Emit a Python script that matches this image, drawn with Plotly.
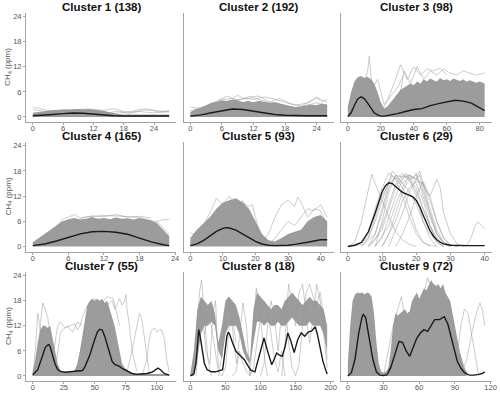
import plotly.graph_objects as go

# ---------------- data ----------------
titles = ["Cluster 1 (138)", "Cluster 2 (192)", "Cluster 3 (98)",
          "Cluster 4 (165)", "Cluster 5 (93)", "Cluster 6 (29)",
          "Cluster 7 (55)", "Cluster 8 (18)", "Cluster 9 (72)"]

x_ticks = [[0, 6, 12, 18, 24], [0, 6, 12, 18, 24], [0, 20, 40, 60, 80],
           [0, 6, 12, 18, 24], [0, 10, 20, 30, 40], [0, 10, 20, 30, 40],
           [0, 25, 50, 75, 100], [0, 50, 100, 150, 200], [0, 30, 60, 90, 120]]
y_ticks = [0, 6, 12, 18, 24]

# Cluster 1
c1_mean_x = [0, 2, 4, 6, 8, 10, 12, 14, 16, 18, 20, 22, 24, 27]
c1_mean_y = [0.3, 0.4, 0.6, 0.8, 0.95, 0.9, 0.7, 0.45, 0.3, 0.25, 0.25, 0.25, 0.25, 0.25]
c1_band_x = list(range(0, 28))
c1_band_hi = [1.0, 1.2, 1.3, 1.5, 1.6, 1.7, 1.8, 1.7, 1.8, 1.9, 1.8, 1.9, 1.8, 1.7, 1.5, 1.2,
              0.9, 0.7, 0.6, 0.6, 0.6, 0.6, 0.6, 0.6, 0.6, 0.6, 0.6, 0.6]
c1_lines = [
    ([0, 1, 2, 3, 5, 8, 11, 14, 16, 18, 20, 22, 24, 26, 27],
     [2.2, 2.2, 1.8, 1.5, 1.6, 1.8, 1.9, 1.6, 2.0, 1.3, 1.0, 1.7, 1.5, 1.3, 1.4]),
    ([0, 3, 6, 9, 12, 15, 17, 19, 21, 23, 25, 27],
     [1.8, 1.2, 1.6, 1.7, 1.5, 1.0, 1.4, 0.8, 1.8, 1.9, 1.2, 1.5]),
    ([0, 4, 8, 12, 16, 18, 20, 22, 24, 27],
     [0.5, 1.0, 1.5, 1.3, 0.8, 1.1, 1.4, 1.2, 1.0, 1.2]),
]

# Cluster 2
c2_mean_x = [0, 2, 4, 6, 8, 10, 12, 14, 16, 18, 20, 22, 24, 26]
c2_mean_y = [0.2, 0.5, 1.0, 1.5, 1.9, 1.8, 1.4, 1.0, 0.6, 0.4, 0.3, 0.3, 0.3, 0.3]
c2_band_x = list(range(0, 27))
c2_band_hi = [1.2, 1.8, 2.2, 2.8, 3.4, 3.6, 4.0, 3.8, 4.2, 4.0, 3.6, 3.8, 3.5, 3.9, 3.7, 3.4,
              3.6, 3.2, 2.9, 2.6, 2.4, 2.5, 2.7, 3.0, 2.8, 3.2, 3.0]
c2_lines = [
    ([0, 2, 4, 6, 8, 9, 10, 12, 14, 16, 18, 20, 22, 24, 25, 26],
     [2.4, 2.0, 3.0, 4.2, 4.4, 5.2, 4.5, 4.2, 4.8, 4.3, 3.5, 2.8, 3.3, 4.6, 3.6, 4.2]),
    ([0, 3, 5, 7, 9, 11, 13, 15, 17, 19, 21, 23, 24, 26],
     [1.0, 2.5, 3.8, 5.0, 4.0, 4.8, 5.0, 3.6, 4.4, 3.2, 2.6, 3.8, 4.7, 3.5]),
    ([0, 4, 8, 12, 16, 20, 24, 26],
     [1.5, 3.0, 4.0, 4.6, 3.0, 2.2, 3.4, 2.6]),
]

# Cluster 3
c3_mean_x = [0, 2, 4, 6, 8, 10, 12, 14, 16, 18, 20, 22, 25, 30, 35, 40, 45, 50, 55, 60, 65, 70, 75, 80, 83]
c3_mean_y = [0.1, 1.0, 2.8, 4.3, 4.8, 4.4, 3.3, 2.0, 1.0, 0.5, 0.2, 0.2, 0.4, 0.8, 1.3, 1.8, 2.0,
             2.7, 3.2, 3.6, 4.0, 3.8, 3.3, 2.2, 1.5]
c3_band_x = [0, 2, 4, 6, 8, 10, 12, 14, 16, 18, 20, 22, 24, 26, 28, 30, 32, 34, 36, 38, 40,
             42, 44, 46, 48, 50, 52, 54, 56, 58, 60, 62, 64, 66, 68, 70, 72, 74, 76, 78, 80, 83]
c3_band_hi = [2.5, 6, 8.5, 9.5, 9.8, 9.3, 9.6, 9, 8, 6, 3.5, 2, 2.5, 3.5, 4.5, 5.5, 6.5, 7, 7.5, 8,
              7.6, 8.5, 8, 9, 8.5, 9.2, 8.8, 8.5, 9.3, 8.8, 9, 8.6, 9.2, 8.9, 8.6, 9, 8.4, 8.8,
              8.5, 8.2, 8.5, 8]
c3_lines = [
    ([8, 10, 12, 13, 14, 16, 18], [4, 8, 11, 14.5, 10, 5, 2]),
    ([20, 24, 28, 32, 36, 40, 44, 48, 52, 56, 60], [1, 4, 8, 12.5, 9, 12, 10, 11.5, 11, 11.7, 10]),
    ([28, 32, 34, 38, 42, 46, 50, 54, 58, 62, 66, 70, 74, 78, 83],
     [2, 6, 11, 8, 12, 9, 11, 10, 11.5, 10.5, 10, 11, 10.5, 10, 10.5]),
    ([14, 18, 22, 26, 30, 34], [6, 9, 3, 5, 7, 10]),
]

# Cluster 4
c4_mean_x = [0, 2, 4, 6, 8, 10, 11, 12, 14, 16, 18, 20, 22, 23]
c4_mean_y = [0.2, 0.6, 1.3, 2.2, 3.0, 3.5, 3.6, 3.6, 3.4, 2.9, 2.0, 1.1, 0.4, 0.2]
c4_band_x = list(range(0, 24))
c4_band_hi = [1.0, 2.0, 3.2, 4.2, 5.0, 6.0, 6.5, 6.8, 6.4, 6.6, 7.0, 6.6, 6.8, 6.5, 6.9, 6.6,
              6.7, 6.4, 6.8, 6.5, 6.2, 5.5, 4.0, 2.5]
c4_lines = [
    ([3, 5, 6, 7, 8, 10, 12, 14, 16, 18, 20], [3, 6.5, 7.0, 7.6, 6.8, 7.3, 7.1, 7.6, 7.0, 7.2, 6.8]),
    ([18, 19, 20, 21, 22, 23], [5.5, 5.0, 4.5, 6.0, 6.4, 6.5]),
    ([0, 2, 4, 6, 9, 12, 15, 18, 21, 23], [0.5, 1.5, 3.5, 5.5, 7.0, 7.4, 7.2, 6.9, 5.8, 3.0]),
]

# Cluster 5
c5_mean_x = [0, 2, 4, 6, 8, 10, 11, 12, 14, 16, 18, 20, 22, 24, 26, 28, 30, 32, 34, 36, 38, 40, 42]
c5_mean_y = [0.2, 0.6, 1.4, 2.5, 3.6, 4.3, 4.5, 4.4, 3.9, 3.0, 2.0, 1.2, 0.6, 0.3, 0.2, 0.2, 0.3,
             0.5, 0.7, 1.0, 1.3, 1.6, 1.6]
c5_band_x = [0, 2, 4, 6, 8, 10, 12, 14, 16, 18, 20, 22, 24, 26, 28, 30, 32, 34, 36, 38, 40, 42]
c5_band_hi = [2, 4, 5.5, 7, 9, 10.5, 11, 11.5, 10.5, 9, 6, 3, 1.5, 1.2, 2, 3, 3.5, 4, 6, 7, 7.5, 6]
c5_lines = [
    ([0, 1, 2, 4, 6, 8, 10, 12, 14, 16, 18, 20, 22],
     [3.2, 3.0, 3.5, 5, 8, 11.5, 10, 12, 9, 11, 8, 5, 2]),
    ([22, 24, 26, 28, 30, 32, 33, 34, 36, 38, 40, 42],
     [1, 3, 7, 10, 11, 9.5, 11.8, 10.5, 7, 9, 8.5, 5]),
    ([24, 26, 28, 30, 32, 34, 36, 38, 40, 42], [0.5, 2, 4, 6, 5, 7, 9, 8.5, 10, 7]),
    ([14, 16, 18, 19, 20, 21, 22], [8, 10.5, 9.5, 10, 7, 4, 1]),
]

# Cluster 6 (individual trajectories)
c6_mean_x = [0, 2, 4, 6, 8, 10, 11, 12, 13, 14, 15, 16, 17, 18, 19, 20, 21, 22, 23, 24, 25,
             26, 27, 28, 30, 32, 35, 38, 40]
c6_mean_y = [0, 0.3, 1.0, 3.5, 8.0, 13, 14.5, 15.2, 15.0, 14.2, 13.5, 12.9, 12.5, 12.2, 11.8,
             11, 9.5, 7.5, 5.5, 3.8, 2.5, 1.6, 1.0, 0.6, 0.3, 0.2, 0.2, 0.2, 0.2]
c6_band_x = []
c6_band_hi = []
c6_lines = [
    ([0, 2, 4, 6, 7, 8, 10, 12, 14, 16, 18, 20], [0, 1, 6, 13, 17.2, 15, 11, 7, 3.5, 1.5, 0.5, 0]),
    ([0, 4, 6, 8, 10, 12, 14, 16, 18, 20, 22, 24, 26], [0, 0.5, 3, 9, 14, 17.5, 16, 12, 7, 3, 1, 0.3, 0]),
    ([2, 6, 8, 10, 12, 13, 14, 16, 18, 20, 22, 24, 26, 28], [0, 2, 6, 11, 16, 18, 17, 15, 13, 10, 6, 3, 1, 0]),
    ([4, 8, 10, 12, 14, 16, 17, 18, 20, 22, 24, 26, 28, 30], [0, 3, 8, 14, 17, 16.5, 17.5, 16, 13, 9, 5, 2, 0.5, 0]),
    ([6, 10, 12, 14, 16, 18, 19, 20, 22, 24, 26, 28, 30, 32], [0, 4, 9, 14, 16.5, 17, 16, 17.5, 12, 7, 3, 1, 0.3, 0]),
    ([8, 12, 14, 16, 18, 20, 22, 24, 26, 28, 30, 32], [0, 5, 10, 14, 17, 16, 15, 11, 6, 2, 0.5, 0]),
    ([10, 14, 16, 18, 20, 22, 23, 24, 25, 26, 27, 28, 30, 32, 34], [0, 6, 11, 14, 15.5, 15, 13, 12, 14, 16, 14, 8, 3, 0.5, 0]),
    ([12, 16, 18, 20, 21, 22, 24, 26, 28, 30], [0, 8, 13, 16, 18, 15, 9, 4, 1, 0]),
    ([34, 35, 36, 37, 38, 40], [0, 0.5, 2, 4.5, 5.9, 4.2]),
    ([4, 6, 8, 10, 12, 14, 16, 18, 20, 22, 24], [0, 2, 7, 12, 15, 16.5, 14, 9, 4, 1, 0]),
    ([6, 8, 10, 12, 14, 16, 18, 20, 22, 24, 26, 28], [0, 1.5, 5, 10, 15, 17, 16, 14, 9, 5, 1.5, 0]),
    ([14, 16, 18, 20, 22, 24, 26, 28, 30], [0, 3, 7, 12, 15.5, 12, 6, 2, 0]),
    ([8, 10, 12, 14, 16, 18, 20, 22, 24, 26, 28], [0, 6, 13, 17, 15, 16.5, 15, 11, 5, 1, 0]),
    ([10, 12, 14, 16, 18, 20, 22, 24, 26, 28, 30], [0, 3, 8, 13, 16, 17, 13, 8, 3, 1, 0]),
    ([6, 8, 10, 12, 13, 14, 16, 18, 20, 22, 24, 26], [0, 3, 9, 15, 17, 16, 17.5, 16, 12, 6, 2, 0]),
    ([8, 10, 12, 14, 16, 18, 20, 21, 22, 24, 26, 28], [0, 2, 7, 12, 16, 17, 16, 17, 14, 8, 3, 0.5]),
]

# Cluster 7
c7_mean_x = [0, 4, 8, 10, 12, 13, 14, 16, 18, 20, 22, 26, 30, 34, 38, 40, 42, 44, 46, 48, 50, 52,
             54, 56, 58, 60, 62, 64, 66, 68, 70, 72, 76, 80, 84, 88, 92, 96, 99, 101, 103, 106, 110]
c7_mean_y = [0.3, 1.5, 5, 6.8, 7.4, 7.5, 7.0, 5.0, 2.8, 1.6, 1.1, 0.9, 1.0, 1.0, 1.1, 1.3, 2.2,
             3.5, 5.0, 7.0, 9.0, 10.5, 11.2, 11.0, 9.5, 7.5, 5.2, 3.5, 2.8, 2.6, 2.3, 1.8, 1.2,
             0.6, 0.4, 0.5, 0.6, 0.9, 1.5, 1.9, 1.5, 0.6, 0.2]
c7_band_x = [0, 2, 4, 6, 8, 10, 12, 14, 16, 18, 20, 22, 24, 26, 28, 30, 32, 34, 36, 38, 40, 42,
             44, 46, 48, 50, 52, 54, 56, 58, 60, 62, 64, 66, 68, 70, 72, 74, 76, 78, 80, 84, 88,
             92, 96, 100, 104, 110]
c7_band_hi = [1, 4, 8, 11, 12, 12, 11.5, 12, 9, 6, 3, 1.5, 1, 1, 1, 1, 1, 1.5, 3, 6, 10, 14, 17,
              18, 18.5, 18, 18.5, 18, 18.5, 17.5, 18, 16, 14, 12, 9, 6, 3, 2, 1.5, 1, 0.8, 0.5,
              0.5, 0.5, 0.5, 0.5, 0.5, 0.5]
c7_lines = [
    ([0, 4, 6, 8, 10, 12, 14, 16, 18, 20], [0, 5, 12, 17.5, 16, 14, 10, 6, 2, 0]),
    ([14, 18, 20, 22, 26, 30, 34, 36, 38, 40, 44], [0, 8, 12, 13, 11.5, 12, 12.5, 11, 12, 14, 17]),
    ([18, 22, 24, 28, 32, 36, 40], [1, 10, 11, 12, 10.5, 13, 12]),
    ([60, 64, 66, 68, 70, 72, 74, 75, 76, 78, 80, 84], [17, 18, 16, 17, 18.5, 17, 18, 19.5, 16, 12, 6, 1]),
    ([76, 80, 84, 86, 88, 90, 92, 94], [1, 6, 12, 15, 13.5, 9, 4, 0.5]),
    ([88, 92, 94, 96, 98, 100, 102, 104, 106, 108, 110], [0, 4, 9, 11, 11.5, 10.5, 11, 11, 9, 4, 1]),
    ([35, 40, 45, 50, 55, 60, 65, 70], [1, 8, 16, 18.5, 17, 19, 18.5, 12]),
    ([0, 2, 4, 6, 8, 10, 14], [0, 6, 15, 11, 8, 4, 1]),
]

# Cluster 8
c8_mean_x = [0, 5, 8, 10, 12, 14, 16, 18, 20, 24, 30, 36, 42, 46, 48, 50, 52, 54, 56, 60, 65, 70,
             77, 82, 86, 92, 96, 100, 105, 110, 116, 120, 123, 127, 131, 135, 139, 143, 148, 153,
             158, 163, 168, 173, 178, 181, 185, 189, 193, 195]
c8_mean_y = [0, 0.5, 3, 7, 11.1, 9.5, 7, 5, 3, 1.5, 1.0, 1.0, 1.2, 1.5, 4, 7.5, 9.5, 10.5, 10, 8,
             5.9, 5.1, 3.9, 2.5, 1.4, 1.0, 3.5, 6.5, 9.1, 6, 2.7, 4.2, 5.5, 5.0, 4.7, 7, 10.3, 8.5,
             5.6, 8.7, 10.3, 9.5, 10.5, 10.8, 11.8, 10, 6.3, 3.5, 1.4, 0.5]
c8_band_x = [0, 5, 10, 15, 20, 25, 30, 35, 40, 45, 50, 55, 60, 65, 70, 75, 80, 85, 90, 95, 100,
             105, 110, 115, 120, 125, 130, 135, 140, 145, 150, 155, 160, 165, 170, 175, 180, 185,
             190, 195]
c8_band_hi = [0.5, 6, 16, 19, 18, 17, 18, 15, 8, 12, 18, 19, 18, 17, 14, 10, 6, 4, 16, 20, 19, 18,
              17, 16, 17, 17, 16, 18, 19, 20, 19, 18, 17, 18, 19, 18, 18, 17, 16, 12]
c8_band_lo = [0, 0, 4, 10, 12, 12, 13, 12, 6, 4, 10, 12, 12, 12, 10, 6, 4, 3, 8, 13, 13, 12, 13,
              12, 12, 13, 12, 12, 13, 14, 13, 12, 12, 12, 13, 12, 12, 12, 10, 6]
c8_lines = [
    ([0, 5, 10, 13, 16, 20, 25, 30], [0, 2, 12, 20, 23, 15, 4, 0]),
    ([8, 12, 15, 18, 22, 28, 32, 36, 40], [0, 8, 17, 14, 6, 3, 15, 18, 2]),
    ([40, 45, 50, 54, 58, 62, 66, 70, 75, 80, 85], [0, 5, 15, 18.8, 15, 8, 3, 10, 17.5, 12, 0]),
    ([60, 65, 70, 75, 80, 85, 90, 94, 98, 102, 106, 110], [0, 1, 6, 3, 1, 0, 12, 21, 17, 10, 4, 0]),
    ([100, 105, 110, 115, 120, 125, 130, 135, 140, 145, 150], [0, 3, 12, 18, 14, 6, 15, 18, 8, 2, 0]),
    ([130, 135, 140, 145, 150, 155, 160, 165, 170, 175, 180, 185, 190, 195],
     [0, 8, 22, 17, 12, 20, 22, 15, 8, 14, 22, 18, 10, 2]),
    ([150, 155, 160, 165, 170, 175, 180, 185, 190, 195], [0, 3, 12, 20, 22, 19, 17, 20, 14, 4]),
    ([20, 25, 30, 35, 40, 45, 50, 55, 60, 65], [10, 14, 12, 7, 1, 0, 2, 11, 14, 8]),
    ([85, 90, 95, 100, 105, 110, 115, 120, 125, 130, 135], [0, 2, 8, 14, 18, 16, 10, 4, 1, 6, 0]),
]

# Cluster 9
c9_mean_x = [0, 3, 6, 9, 12, 13, 15, 18, 21, 24, 27, 30, 33, 36, 40, 43, 46, 49, 52, 55, 58, 61,
             64, 67, 70, 73, 77, 81, 84, 87, 89, 92, 95, 98, 102, 106, 110, 113, 115]
c9_mean_y = [0, 0.8, 4, 10, 14.2, 14.7, 14, 9, 4, 1, 0.2, 0.1, 0.3, 2, 5.5, 8.3, 8, 6, 4.7, 7, 9.1,
             10.3, 11.1, 10.7, 12.2, 13.5, 13.5, 14.2, 12.5, 9, 6.3, 3.5, 1.9, 0.8, 0.2, 0.2, 0.4,
             0.6, 1.0]
c9_band_x = [0, 2, 4, 6, 8, 10, 12, 14, 16, 18, 20, 22, 24, 26, 28, 30, 32, 34, 36, 38, 40, 42,
             44, 46, 48, 50, 52, 54, 56, 58, 60, 62, 64, 66, 68, 70, 72, 74, 76, 78, 80, 82, 84,
             86, 88, 90, 92, 94, 96, 98, 100]
c9_band_hi = [3, 12, 18, 19.5, 20, 19.8, 20, 19.5, 20, 19.8, 19, 15, 8, 3, 1, 0.8, 1, 2, 6, 12,
              15, 14.5, 15, 15.5, 16, 15, 15.5, 18, 19, 20, 18.5, 20, 21, 20.5, 22, 23, 22, 21.5,
              22, 21, 22, 20, 19, 18, 15, 12, 9, 6, 4, 2, 1]
c9_lines = [
    ([88, 92, 95, 98, 101, 104, 107, 110], [0, 5, 12, 16, 15, 10, 4, 0]),
    ([95, 100, 104, 108, 111, 113, 115], [0, 4, 10, 15, 17.5, 16, 12]),
    ([60, 64, 67, 70, 73, 76, 80], [15, 20, 23.5, 21, 22, 19, 16]),
    ([30, 34, 38, 42, 45, 48, 52], [0, 6, 12, 16, 19, 14, 8]),
]

panels = [
    (c1_mean_x, c1_mean_y, c1_band_x, c1_band_hi, None, c1_lines),
    (c2_mean_x, c2_mean_y, c2_band_x, c2_band_hi, None, c2_lines),
    (c3_mean_x, c3_mean_y, c3_band_x, c3_band_hi, None, c3_lines),
    (c4_mean_x, c4_mean_y, c4_band_x, c4_band_hi, None, c4_lines),
    (c5_mean_x, c5_mean_y, c5_band_x, c5_band_hi, None, c5_lines),
    (c6_mean_x, c6_mean_y, c6_band_x, c6_band_hi, None, c6_lines),
    (c7_mean_x, c7_mean_y, c7_band_x, c7_band_hi, None, c7_lines),
    (c8_mean_x, c8_mean_y, c8_band_x, c8_band_hi, c8_band_lo, c8_lines),
    (c9_mean_x, c9_mean_y, c9_band_x, c9_band_hi, None, c9_lines),
]

# ---------------- layout geometry (pixels) ----------------
W, H = 500, 394
col_px = [(26, 176), (183.5, 334), (341, 491.5)]
row_px = [(12.8, 122), (142, 251.5), (272, 381)]
y_range = [-1.2, 24.9]

AXIS_COL = "#a3a3a3"
TICK_FONT = dict(family="Liberation Sans, Arial, sans-serif", size=7.5, color="#555555")
BAND_COL = "#9c9c9c"
LINE_COL = "rgba(150,150,150,0.55)"

fig = go.Figure()
layout = dict(width=W, height=H, margin=dict(l=0, r=0, t=0, b=0),
              paper_bgcolor="white", plot_bgcolor="white", showlegend=False,
              annotations=[])

for i, (mx, my, bx, bhi, blo, lines) in enumerate(panels):
    r, c = divmod(i, 3)
    n = "" if i == 0 else str(i + 1)
    xa, ya = "x" + n, "y" + n
    # x range from data with 5% expansion
    all_x = list(mx) + list(bx) + [v for lx, _ in lines for v in lx]
    xmin, xmax = min(all_x), max(all_x)
    pad = 0.05 * (xmax - xmin)
    x0, x1 = col_px[c]
    yt, yb = row_px[r]
    layout["xaxis" + n] = dict(
        domain=[x0 / W, x1 / W], anchor=ya, range=[xmin - pad, xmax + pad],
        tickvals=x_ticks[i], showgrid=False, zeroline=False, showline=True,
        linecolor=AXIS_COL, linewidth=1, ticks="outside", ticklen=2,
        tickcolor=AXIS_COL, tickfont=TICK_FONT, automargin=False,
        ticklabelstandoff=-3)
    yaxis = dict(
        domain=[1 - yb / H, 1 - yt / H], anchor=xa, range=y_range,
        showgrid=False, zeroline=False, showline=True, linecolor=AXIS_COL,
        linewidth=1, automargin=False)
    if c == 0:
        yaxis.update(tickvals=y_ticks, ticks="outside", ticklen=2,
                     tickcolor=AXIS_COL, tickfont=TICK_FONT)
    else:
        yaxis.update(tickvals=[], showticklabels=False, ticks="")
    layout["yaxis" + n] = yaxis

    if bx:
        lo = blo if blo is not None else [0] * len(bx)
        fig.add_trace(go.Scatter(
            x=list(bx) + list(bx)[::-1], y=list(bhi) + list(lo)[::-1],
            fill="toself", fillcolor=BAND_COL, mode="lines", line=dict(width=0),
            xaxis=xa, yaxis=ya, hoverinfo="skip"))
    for lx, ly in lines:
        fig.add_trace(go.Scatter(x=lx, y=ly, mode="lines",
                                 line=dict(color=LINE_COL, width=0.9),
                                 xaxis=xa, yaxis=ya, hoverinfo="skip"))
    fig.add_trace(go.Scatter(x=mx, y=my, mode="lines",
                             line=dict(color="#1a1a1a", width=1.4),
                             xaxis=xa, yaxis=ya, hoverinfo="skip"))

    layout["annotations"].append(dict(
        text="<b>" + titles[i] + "</b>", xref="paper", yref="paper",
        x=(x0 + x1) / 2 / W, y=1 - yt / H, xanchor="center", yanchor="bottom",
        yshift=-2, showarrow=False,
        font=dict(family="Liberation Sans, Arial, sans-serif", size=11.5, color="#111111")))
    if c == 0:
        layout["annotations"].append(dict(
            text="CH<sub>4</sub> (ppm)", xref="paper", yref="paper",
            x=8.5 / W, y=1 - (yt + yb) / 2 / H, xanchor="center", yanchor="middle",
            textangle=-90, showarrow=False,
            font=dict(family="Liberation Sans, Arial, sans-serif", size=8, color="#555555")))

fig.update_layout(**layout)
fig.write_html("out.html", config={"displayModeBar": False},
               post_script="document.body.style.margin='0';document.body.style.padding='0';")
